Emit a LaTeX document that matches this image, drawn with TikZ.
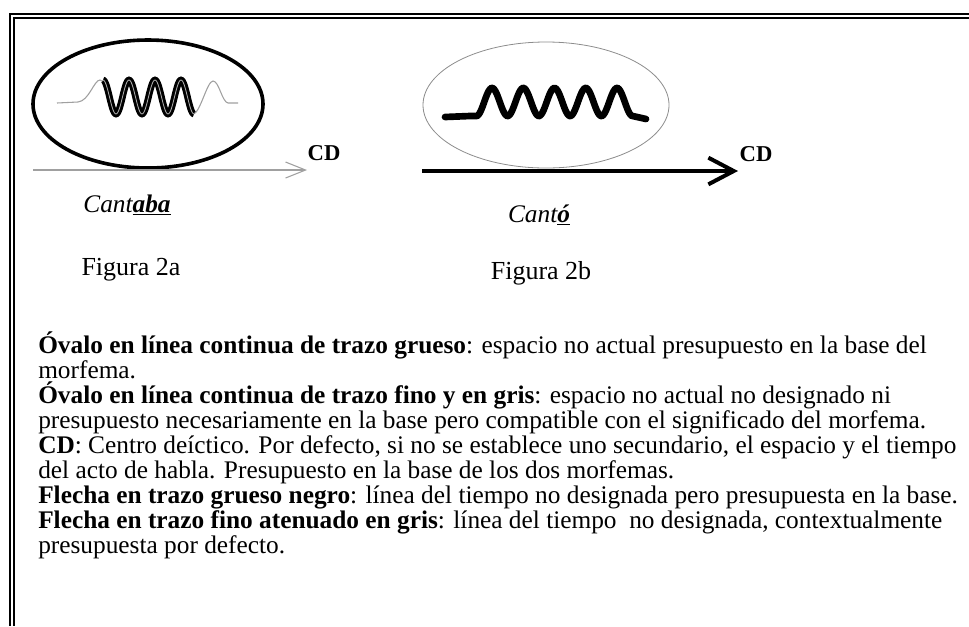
\documentclass[tikz,border=0pt]{standalone}
\usepackage{fontspec}
\setmainfont{Liberation Serif}
\usetikzlibrary{arrows.meta}

\begin{document}
\begin{tikzpicture}[x=0.75pt,y=-0.75pt,
  marco/.style={line width=1.6pt},
  texto/.style={anchor=base west, inner sep=0pt, font=\fontsize{19}{22}\selectfont},
  rotulo/.style={inner sep=0pt, font=\fontsize{19.5}{23}\selectfont},
  centro/.style={inner sep=0pt, font=\fontsize{17}{20}\selectfont\bfseries}]

% Colores
\definecolor{grisOvalo}{HTML}{8C8C8C}
\definecolor{grisLinea}{HTML}{A0A0A0}
\definecolor{grisOnda}{HTML}{B4B4B4}

\useasboundingbox (0,0) rectangle (969,626);

% Marco doble (arriba e izquierda)
\draw[marco] (969,14) -- (10,14) -- (10,626);
\draw[marco] (969,18) -- (14,18) -- (14,626);

% ---- Figura 2a ----
\draw[line width=2.7pt] (148,104) ellipse [x radius=115, y radius=64];

% onda fina gris a los lados
\draw[grisLinea, line width=0.8pt] (57,103) -- (78,102)
  .. controls (89,101) and (94,80) .. (100,80) .. controls (103,80) and (105,86) .. (107,92);
\draw[grisLinea, line width=0.8pt] (193,114) .. controls (200,114) and (207,81) .. (213,81)
  .. controls (219,81) and (222,102) .. (228,103) -- (238,103);
% onda gruesa
\draw[line width=2.2pt, double=grisOnda, double distance=0.6pt]
  plot[domain=103:194, samples=120, smooth] (\x, {97-17*cos(13.846*(\x-103))});

\coordinate (a0) at (33,170);
\coordinate (a1) at (307,170);
\draw[grisLinea, line width=0.8pt, -{Straight Barb[length=15pt, width=12pt]}] (a0) -- (a1);
\node[centro] (cdA) at (324,153) {CD};

\node[rotulo, font=\fontsize{19}{22}\selectfont] (verboA) at (127,205)
  {\textit{Cant\underline{\textbf{aba}}}};
\node[rotulo] (figA) at (131,270) {Figura 2a};

% ---- Figura 2b ----
\draw[grisOvalo, line width=0.6pt] (546,105) ellipse [x radius=123, y radius=63];

\draw[line width=5pt, line cap=round] (445,117) -- (470,116)
  -- plot[domain=476.4:632.6, samples=150, smooth] (\x, {102-14*cos(11.52*(\x-492))})
  -- (646,119);

\coordinate (b0) at (422,171);
\coordinate (b1) at (738,171);
\draw[line width=3pt, -{Straight Barb[length=19pt, width=20pt]}] (b0) -- (b1);
\node[centro] (cdB) at (756,154) {CD};

\node[rotulo, font=\fontsize{19}{22}\selectfont] (verboB) at (539,215)
  {\textit{Cant\underline{\textbf{ó}}}};
\node[rotulo] (figB) at (541,273) {Figura 2b};

% ---- Leyenda ----
\node[texto] (l1) at (38,353) {\textbf{Óvalo en línea continua de trazo grueso}: espacio no actual presupuesto en la base del};
\node[texto] (l2) at (38,378) {morfema.};
\node[texto] (l3) at (38,403) {\textbf{Óvalo en línea continua de trazo fino y en gris}: espacio no actual no designado ni};
\node[texto] (l4) at (38,428) {presupuesto necesariamente en la base pero compatible con el significado del morfema.};
\node[texto] (l5) at (38,453) {\textbf{CD}: Centro deíctico. Por defecto, si no se establece uno secundario, el espacio y el tiempo};
\node[texto] (l6) at (38,478) {del acto de habla. Presupuesto en la base de los dos morfemas.};
\node[texto] (l7) at (38,503) {\textbf{Flecha en trazo grueso negro}: línea del tiempo no designada pero presupuesta en la base.};
\node[texto] (l8) at (38,528) {\textbf{Flecha en trazo fino atenuado en gris}: línea del tiempo\ \ no designada, contextualmente};
\node[texto] (l9) at (38,553) {presupuesta por defecto.};

\end{tikzpicture}
\end{document}
